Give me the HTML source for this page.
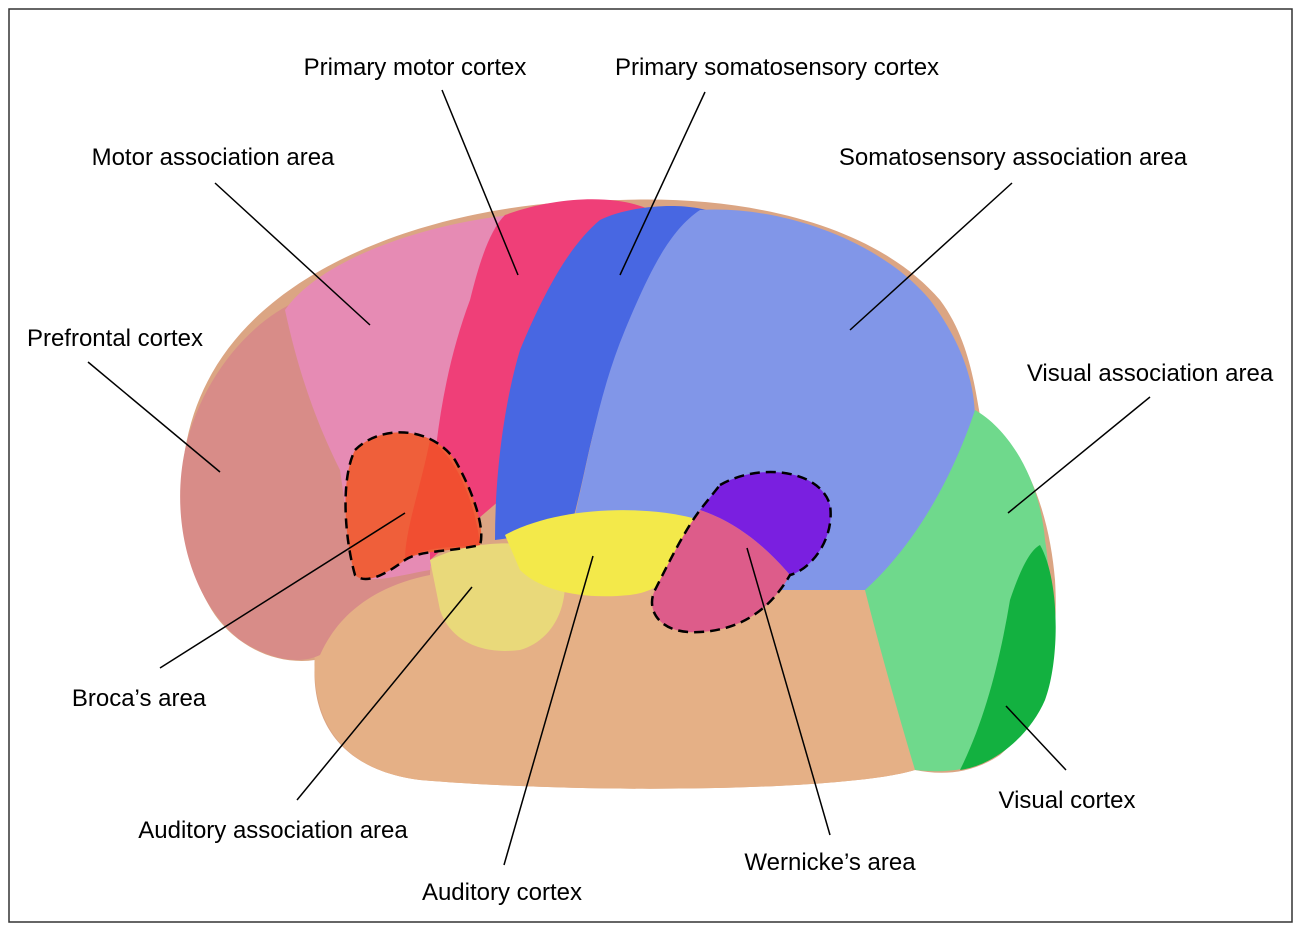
<!DOCTYPE html>
<html><head><meta charset="utf-8"><style>
html,body{margin:0;padding:0;background:#fff;width:1301px;height:932px;overflow:hidden}
svg{display:block}
text{font-family:"Liberation Sans",sans-serif;font-size:24px;fill:#000}
</style></head><body>
<svg width="1301" height="932" viewBox="0 0 1301 932" xmlns="http://www.w3.org/2000/svg">
<rect x="9" y="9" width="1283" height="913" fill="#fff" stroke="#333" stroke-width="1.5"/>
<!-- base outline -->
<path d="M185,450 C200,360 260,300 340,260 C420,220 520,200 620,200 C760,195 880,230 940,300 C970,340 975,390 980,415 C1030,450 1050,520 1055,580 C1060,660 1040,720 1000,755 C970,775 940,775 915,770 C850,790 600,795 420,780 C340,770 310,720 315,660 C280,665 240,650 215,615 C185,570 175,510 185,450Z" fill="#dba583"/>
<!-- temporal lobe -->
<path d="M315,650 C330,600 420,560 520,545 L880,580 C900,650 910,720 915,770 C850,790 600,795 420,780 C340,770 310,720 315,650Z" fill="#e5b086"/>
<!-- prefrontal -->
<path d="M300,300 C250,320 200,380 185,450 C170,520 190,600 240,640 C270,660 300,665 320,655 C340,610 380,585 430,575 L440,340 Z" fill="#d88c88"/>
<!-- motor association -->
<path d="M285,310 C320,260 420,225 510,215 L470,310 L440,500 L430,570 C400,575 370,585 355,575 L340,470 C320,430 300,380 285,310Z" fill="#e68bb4"/>
<!-- primary motor -->
<path d="M505,215 C560,195 620,195 650,210 C600,260 560,310 530,360 C510,400 505,450 500,500 L430,560 C430,470 440,380 470,300 C480,260 490,230 505,215Z" fill="#ef3f78"/>
<!-- primary somatosensory -->
<path d="M600,220 C630,205 690,200 720,215 C680,260 640,320 610,380 C590,430 585,480 570,530 L495,540 C495,470 505,400 520,350 C545,290 570,245 600,220Z" fill="#4867e2"/>
<!-- somatosensory association -->
<path d="M700,210 C780,205 880,240 930,300 C960,340 975,380 975,420 C955,480 920,540 880,590 L700,590 C660,560 620,530 575,515 C590,450 600,390 625,330 C650,270 670,230 700,210Z" fill="#8196e8"/>
<!-- visual association -->
<path d="M975,410 C1010,430 1040,480 1045,540 C1055,600 1045,680 1010,740 C990,765 960,775 915,770 C900,720 880,650 865,590 C920,540 955,470 975,410Z" fill="#6fd98c"/>
<!-- visual cortex -->
<path d="M1040,545 C1060,580 1060,660 1045,700 C1030,735 995,765 960,770 C985,720 1000,660 1010,600 C1020,570 1030,550 1040,545Z" fill="#13b140"/>
<!-- auditory assoc -->
<path d="M430,560 C470,540 520,540 560,550 C575,600 555,640 520,650 C480,655 450,640 440,610 Z" fill="#e9d97a"/>
<!-- auditory cortex -->
<path d="M505,535 C560,505 650,505 700,520 C690,560 670,590 630,595 C580,600 540,590 520,570 Z" fill="#f3e94a"/>
<!-- broca -->
<path d="M355,450 C380,425 430,425 455,460 C475,495 485,530 480,545 C450,552 420,550 405,560 C385,575 365,585 355,575 C345,540 340,480 355,450Z" fill="#ef5f3a"/>
<path d="M405,560 C425,545 455,548 480,545 C475,500 455,455 430,440 C420,490 405,530 405,560Z" fill="#f2472e" opacity="0.7"/>
<!-- wernicke -->
<path d="M720,485 C760,462 820,470 830,505 C835,540 810,570 790,575 C760,540 730,520 700,510 Z" fill="#7a1fe0"/>
<path d="M700,510 C730,520 760,540 790,575 C770,610 740,630 700,632 C660,635 645,610 655,590 C670,560 685,530 700,510Z" fill="#dd5c8a"/>
<path d="M355,450 C380,425 430,425 455,460 C475,495 485,530 480,545 C450,552 420,550 405,560 C385,575 365,585 355,575 C345,540 340,480 355,450Z" fill="none" stroke="#000" stroke-width="2.5" stroke-dasharray="10,6"/>
<path d="M720,485 C760,462 820,470 830,505 C835,540 810,570 790,575 C770,610 740,630 700,632 C660,635 645,610 655,590 C670,560 685,530 700,510 Z" fill="none" stroke="#000" stroke-width="2.5" stroke-dasharray="10,6"/>
<g stroke="#000" stroke-width="1.5">
<line x1="442" y1="90" x2="518" y2="275"/>
<line x1="705" y1="92" x2="620" y2="275"/>
<line x1="215" y1="183" x2="370" y2="325"/>
<line x1="1012" y1="183" x2="850" y2="330"/>
<line x1="88" y1="362" x2="220" y2="472"/>
<line x1="1150" y1="397" x2="1008" y2="513"/>
<line x1="160" y1="668" x2="405" y2="513"/>
<line x1="297" y1="800" x2="472" y2="587"/>
<line x1="504" y1="865" x2="593" y2="556"/>
<line x1="830" y1="835" x2="747" y2="548"/>
<line x1="1066" y1="770" x2="1006" y2="706"/>
</g>
<g text-anchor="middle">
<text x="415" y="75">Primary motor cortex</text>
<text x="777" y="75">Primary somatosensory cortex</text>
<text x="213" y="165">Motor association area</text>
<text x="1013" y="165">Somatosensory association area</text>
<text x="115" y="346">Prefrontal cortex</text>
<text x="1150" y="381">Visual association area</text>
<text x="139" y="706">Broca’s area</text>
<text x="273" y="838">Auditory association area</text>
<text x="502" y="900">Auditory cortex</text>
<text x="830" y="870">Wernicke’s area</text>
<text x="1067" y="808">Visual cortex</text>
</g>
</svg>
</body></html>
